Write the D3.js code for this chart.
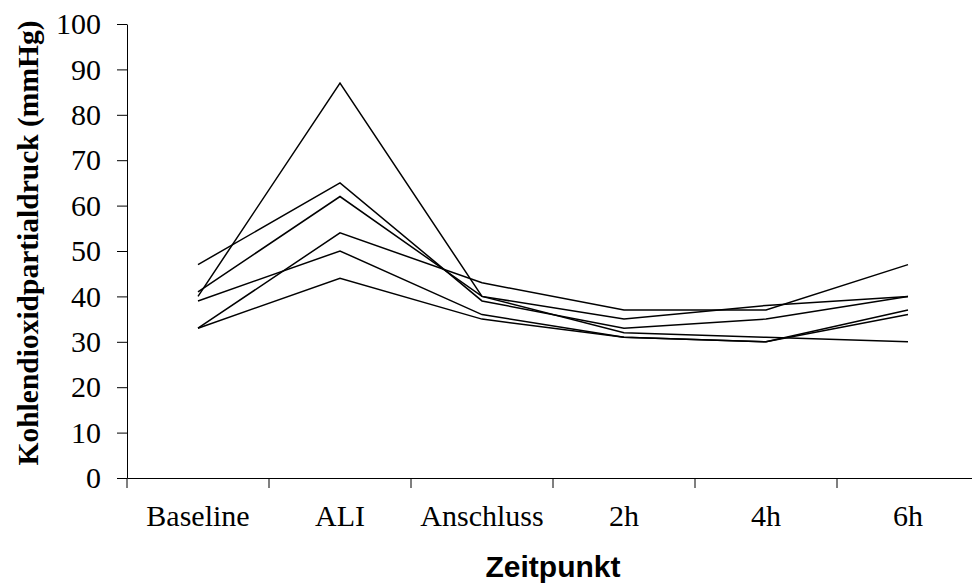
<!DOCTYPE html>
<html>
<head>
<meta charset="utf-8">
<script src="https://cdn.jsdelivr.net/npm/d3@7"></script>
<style>
  body { margin: 0; background: #fff; }
  svg { display: block; }
</style>
</head>
<body>
<svg id="chart"></svg>
<script>
// time points and y ticks
const categories = ['Baseline', 'ALI', 'Anschluss', '2h', '4h', '6h'];
const yTicks = [0, 10, 20, 30, 40, 50, 60, 70, 80, 90, 100];

// one array per animal
const seriesA = [40, 87, 40, 35, 38, 40];
const seriesB = [47, 65, 39, 33, 35, 40];
const seriesC = [41, 62, 40, 32, 31, 30];
const seriesD = [33, 54, 43, 37, 37, 47];
const seriesE = [39, 50, 36, 31, 30, 37];
const seriesF = [33, 44, 35, 31, 30, 36];
const allSeries = [seriesA, seriesB, seriesC, seriesD, seriesE, seriesF];

const W = 972, H = 583;
const margin = { top: 24, right: -7, bottom: 105, left: 127 };
const width = W - margin.left - margin.right;
const height = H - margin.top - margin.bottom;

const svg = d3.select('#chart')
  .attr('width', W)
  .attr('height', H);

const g = svg.append('g')
  .attr('transform', `translate(${margin.left},${margin.top})`);

const x = d3.scaleBand()
  .domain(categories)
  .range([0, width]);

const y = d3.scaleLinear()
  .domain([0, 100])
  .range([height, 0]);

const serif = '"Liberation Serif", "Times New Roman", serif';

// x axis: labels centred in bands, no ticks here
g.append('g')
  .attr('transform', `translate(0,${height})`)
  .call(d3.axisBottom(x).tickSize(0).tickPadding(27))
  .call(a => a.select('.domain').attr('stroke', '#000'))
  .call(a => a.selectAll('.tick text')
    .attr('font-family', serif)
    .attr('font-size', 30)
    .attr('fill', '#000'));

// tick marks between the categories
g.append('g')
  .selectAll('line')
  .data(categories)
  .join('line')
  .attr('x1', d => x(d))
  .attr('x2', d => x(d))
  .attr('y1', height)
  .attr('y2', height + 10)
  .attr('stroke', '#000');

// y axis
g.append('g')
  .call(d3.axisLeft(y).tickValues(yTicks).tickSizeInner(10).tickSizeOuter(0).tickPadding(16))
  .call(a => a.select('.domain').attr('stroke', '#000'))
  .call(a => a.selectAll('.tick line').attr('stroke', '#000'))
  .call(a => a.selectAll('.tick text')
    .attr('font-family', serif)
    .attr('font-size', 30)
    .attr('fill', '#000'));

const line = d3.line()
  .x((d, i) => x(categories[i]) + x.bandwidth() / 2)
  .y(d => y(d));

g.selectAll('path.series')
  .data(allSeries)
  .join('path')
  .attr('class', 'series')
  .attr('fill', 'none')
  .attr('stroke', '#000')
  .attr('stroke-width', 1.5)
  .attr('d', line);

// axis titles
svg.append('text')
  .attr('x', 553)
  .attr('y', 577)
  .attr('text-anchor', 'middle')
  .attr('font-family', '"Liberation Sans", Arial, sans-serif')
  .attr('font-weight', 'bold')
  .attr('font-size', 30)
  .text('Zeitpunkt');

svg.append('text')
  .attr('transform', 'translate(38,243) rotate(-90)')
  .attr('text-anchor', 'middle')
  .attr('font-family', serif)
  .attr('font-weight', 'bold')
  .attr('font-size', 29.5)
  .text('Kohlendioxidpartialdruck (mmHg)');
</script>
</body>
</html>
